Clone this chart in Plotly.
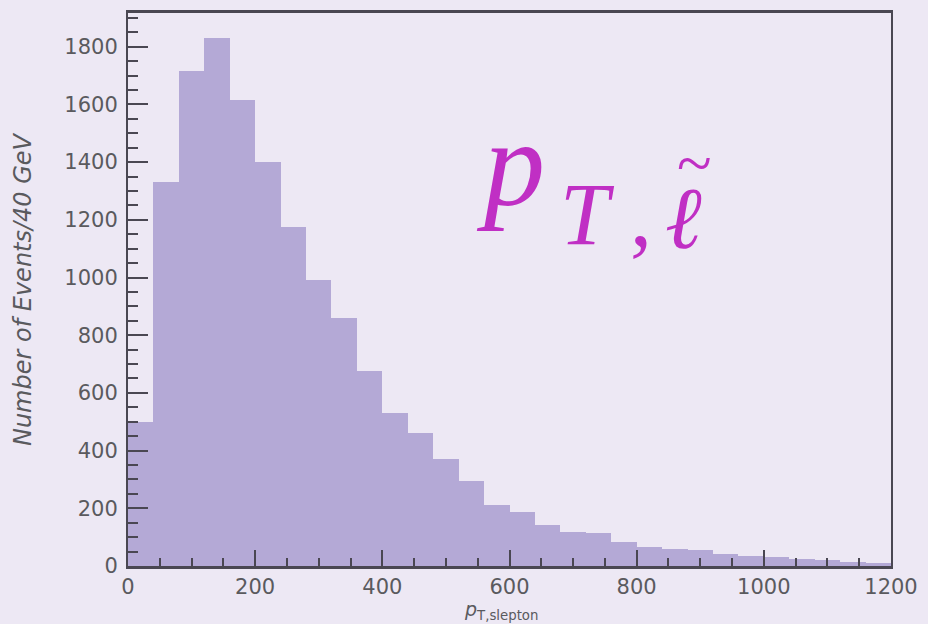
import numpy as np
import plotly.graph_objects as go

# ---- data ----
bin_width = 40
bin_low_edges = list(range(0, 1200, 40))
events = [500, 1330, 1715, 1830, 1615, 1400, 1176, 990, 858, 676,
          531, 462, 372, 293, 212, 186, 143, 118, 115, 83,
          66, 60, 55, 42, 36, 30, 24, 20, 15, 10]
x_tick_vals = [0, 200, 400, 600, 800, 1000, 1200]
y_tick_vals = [0, 200, 400, 600, 800, 1000, 1200, 1400, 1600, 1800]

x_title = "<i>p</i><sub>T,slepton</sub>"
y_title = "<i>Number of Events/40 GeV</i>"

centers = [e + bin_width / 2 for e in bin_low_edges]

W, H = 928, 624
L, R, T, B = 128, 895, 10, 566  # plot-area pixel box

def px(xp):
    return (xp - L) / (R - L)

def py(yp):
    return (B - yp) / (B - T)

BG = "#ede8f4"
AXC = "#4a4752"
LBL = "#5a5a5e"
MAG = "#c02fc4"

fig = go.Figure()
fig.add_trace(go.Bar(
    x=centers, y=events, width=[bin_width] * len(events),
    marker=dict(color="#b4a9d6", line=dict(width=0)),
    hoverinfo="x+y",
))

fig.update_layout(
    width=W, height=H,
    margin=dict(l=L, r=W - R, t=T, b=H - B, pad=0),
    paper_bgcolor=BG, plot_bgcolor=BG,
    bargap=0, showlegend=False,
    font=dict(family="DejaVu Sans", color=LBL, size=21),
)

fig.update_xaxes(
    range=[0, 1200], tickvals=x_tick_vals, ticks="inside", ticklen=16,
    tickwidth=2, tickcolor=AXC, showline=True, linecolor=AXC, linewidth=3,
    mirror=True, showgrid=False, zeroline=False,
    tickfont=dict(family="DejaVu Sans", size=21, color=LBL),
    minor=dict(dtick=50, ticks="inside", ticklen=8, tickwidth=2, tickcolor=AXC, showgrid=False),
)
fig.update_yaxes(
    range=[0, 1917], tickvals=y_tick_vals, ticks="inside", ticklen=20,
    tickwidth=2, tickcolor=AXC, showline=True, linecolor=AXC, linewidth=2,
    mirror=True, showgrid=False, zeroline=False,
    tickfont=dict(family="DejaVu Sans", size=21, color=LBL),
    ticklabelstandoff=4,
    minor=dict(dtick=50, ticks="inside", ticklen=10, tickwidth=2, tickcolor=AXC, showgrid=False),
)

ann = []
# axis titles
ann.append(dict(text=x_title, xref="paper", yref="paper", x=px(503), y=py(611),
                showarrow=False, xanchor="center", yanchor="middle",
                font=dict(family="DejaVu Sans", size=19, color=LBL)))
ann.append(dict(text=y_title, xref="paper", yref="paper", x=px(22), y=py(288),
                showarrow=False, xanchor="center", yanchor="middle", textangle=-90,
                font=dict(family="DejaVu Sans", size=24, color=LBL)))
# big magenta label  p_{T, l~}
ann.append(dict(text="<i>p</i>", xref="paper", yref="paper", x=px(476), y=py(161),
                showarrow=False, xanchor="left", yanchor="middle",
                font=dict(family="Liberation Serif", size=122, color=MAG)))
ann.append(dict(text="<i>T</i>", xref="paper", yref="paper", x=px(560), y=py(213),
                showarrow=False, xanchor="left", yanchor="middle",
                font=dict(family="Liberation Serif", size=88, color=MAG)))
ann.append(dict(text=",", xref="paper", yref="paper", x=px(631), y=py(214),
                showarrow=False, xanchor="left", yanchor="middle",
                font=dict(family="Liberation Serif", size=88, color=MAG)))
ann.append(dict(text="<i>ℓ</i>", xref="paper", yref="paper", x=px(666), y=py(217),
                showarrow=False, xanchor="left", yanchor="middle",
                font=dict(family="Liberation Serif", size=88, color=MAG)))
ann.append(dict(text="~", xref="paper", yref="paper", x=px(697), y=py(161),
                showarrow=False, xanchor="center", yanchor="middle",
                font=dict(family="Liberation Serif", size=64, color=MAG)))
fig.update_layout(annotations=ann)

fig.write_html("out.html")
